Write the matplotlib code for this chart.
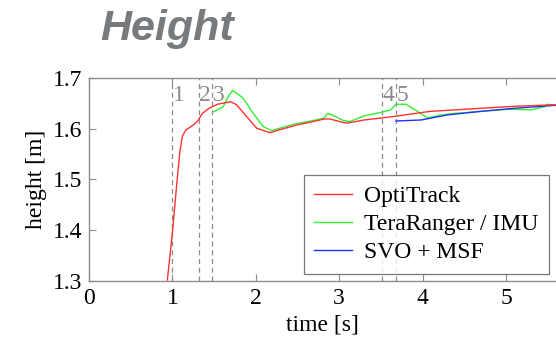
import matplotlib
matplotlib.use("Agg")
import matplotlib.pyplot as plt

# OptiTrack (ground truth)
opti_t = [0.94, 1.00, 1.05, 1.09, 1.12, 1.16, 1.24, 1.30, 1.36, 1.44, 1.54, 1.70, 1.77,
          1.89, 2.01, 2.17, 2.29, 2.49, 2.69, 2.82, 2.89, 3.05, 3.10, 3.30, 3.66,
          4.09, 4.70, 5.10, 5.60]
opti_h = [1.302, 1.394, 1.486, 1.555, 1.585, 1.597, 1.606, 1.614, 1.630, 1.640, 1.648, 1.653, 1.647,
          1.624, 1.601, 1.592, 1.598, 1.607, 1.614, 1.619, 1.619, 1.612, 1.611, 1.617, 1.624,
          1.634, 1.640, 1.644, 1.647]

# TeraRanger / IMU
tera_t = [1.48, 1.61, 1.67, 1.72, 1.77, 1.85, 1.97, 2.09, 2.19, 2.29, 2.49, 2.69,
          2.82, 2.86, 2.94, 3.05, 3.13, 3.30, 3.50, 3.62, 3.68, 3.80, 3.94, 4.06,
          4.22, 4.38, 4.70, 5.02, 5.30, 5.46, 5.50, 5.60]
tera_h = [1.632, 1.643, 1.663, 1.675, 1.670, 1.660, 1.630, 1.604, 1.596, 1.601, 1.610, 1.616,
          1.621, 1.630, 1.625, 1.616, 1.614, 1.625, 1.632, 1.637, 1.648, 1.648, 1.634, 1.621,
          1.627, 1.630, 1.634, 1.638, 1.637, 1.643, 1.648, 1.646]

# SVO + MSF
svo_t = [3.68, 3.98, 4.30, 4.70, 5.10, 5.60]
svo_h = [1.615, 1.617, 1.627, 1.634, 1.640, 1.646]

# markierte Ereignisse
event_t = [1.00, 1.32, 1.48, 3.51, 3.68]
event_lbl = ["1", "2", "3", "4", "5"]

GRAY = "#8c8c8c"
SERIF = ["Liberation Serif", "DejaVu Serif"]

plt.rcParams["font.family"] = SERIF
plt.rcParams["font.size"] = 17

fig = plt.figure(figsize=(5.56, 3.46), dpi=100)
ax = fig.add_axes([0.160, 0.188, 0.840, 0.587])

for t, lbl in zip(event_t, event_lbl):
    ax.axvline(t, color=GRAY, linestyle=(0, (4, 3)), linewidth=0.9, zorder=1)
    ax.text(t + 0.005, 1.666, lbl, color=GRAY, ha="left", va="center", fontsize=17)

ax.plot(opti_t, opti_h, color="#ff3030", linewidth=1.0, label="OptiTrack", zorder=3)
ax.plot(tera_t, tera_h, color="#33ee33", linewidth=1.0, label="TeraRanger / IMU", zorder=2)
ax.plot(svo_t, svo_h, color="#2030ff", linewidth=1.0, label="SVO + MSF", zorder=2)

ax.set_xlim(0, 5.6)
ax.set_ylim(1.3, 1.7)
ax.set_xticks([0, 1, 2, 3, 4, 5])
ax.set_yticks([1.3, 1.4, 1.5, 1.6, 1.7])
ax.set_yticklabels(["1.3", "1.4", "1.5", "1.6", "1.7"])
ax.tick_params(direction="in", color=GRAY, top=True, right=False, length=5, width=0.8,
               pad=5)
for name, sp in ax.spines.items():
    sp.set_color(GRAY)
    sp.set_linewidth(1.0)
ax.spines["right"].set_visible(False)

ax.set_xlabel("time [s]", labelpad=4)
ax.set_ylabel("height [m]", labelpad=4)

leg = ax.legend(loc="lower right", bbox_to_anchor=(0.985, 0.035), frameon=True,
                fancybox=False, borderaxespad=0.0, handlelength=1.6,
                labelspacing=0.28, borderpad=0.45, handletextpad=0.5)
leg.get_frame().set_edgecolor("#555555")
leg.get_frame().set_linewidth(0.9)

fig.text(0.18, 0.915, "Height", color="#777b7d", fontsize=31, fontweight="bold",
         fontstyle="italic", family=["Liberation Sans", "DejaVu Sans"],
         ha="left", va="center")

fig.savefig("out.png", dpi=100)
